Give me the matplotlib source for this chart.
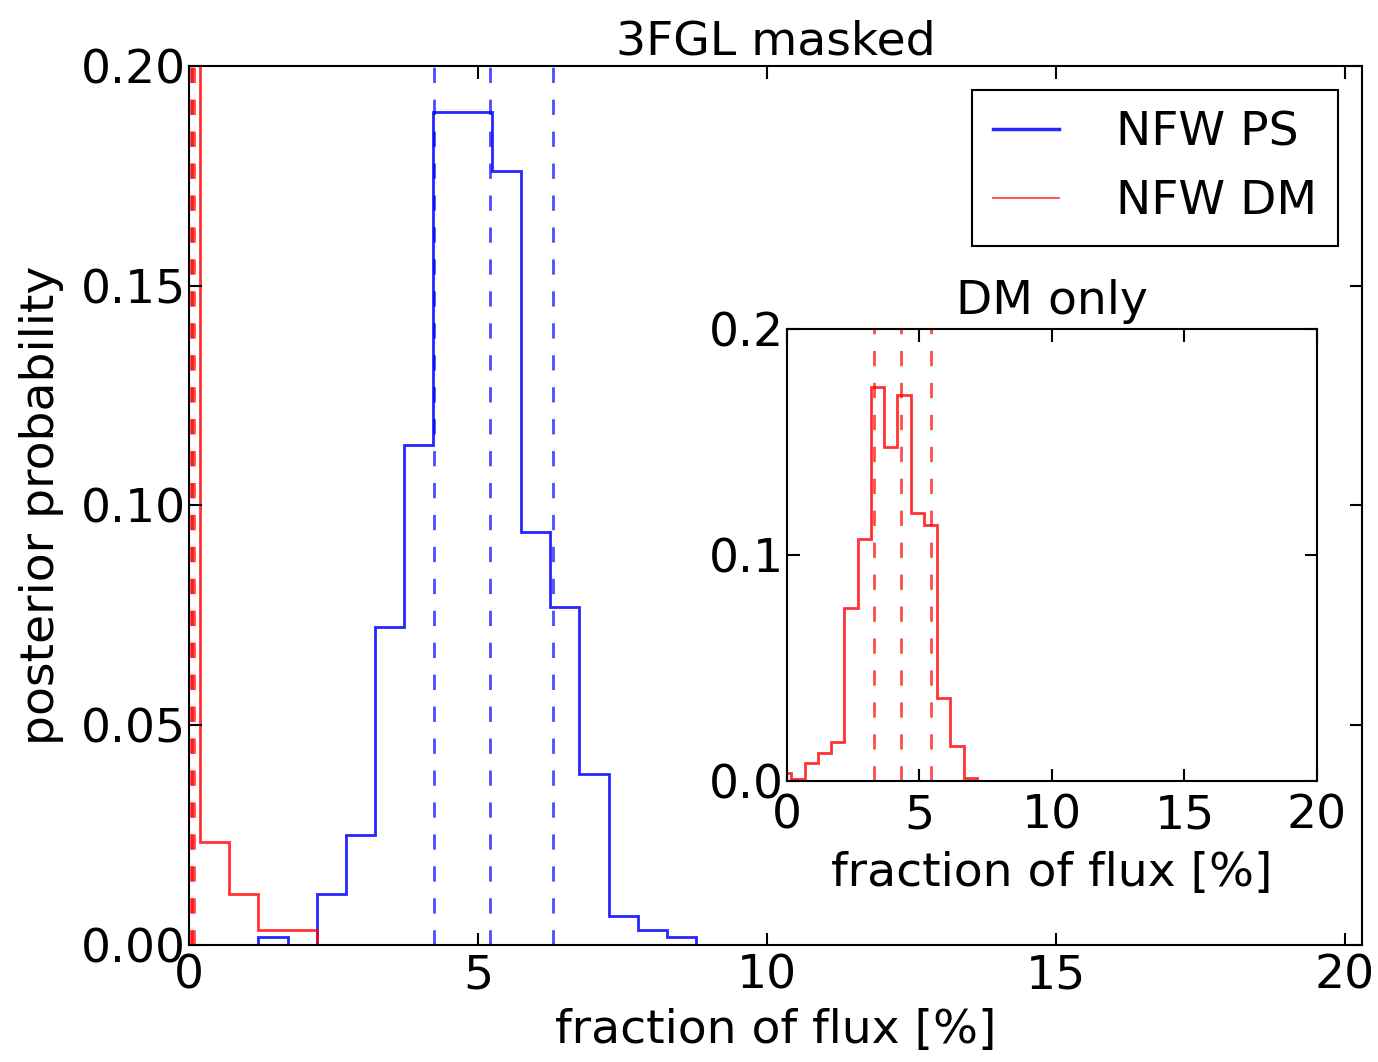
import matplotlib
matplotlib.use("Agg")
import matplotlib.pyplot as plt
from matplotlib.lines import Line2D

# main panel: posterior of the flux fraction, shared bin edges [%]
ps_edges = [0.19, 0.695, 1.2, 1.705, 2.21, 2.715, 3.22, 3.725, 4.23, 4.735,
            5.24, 5.745, 6.25, 6.755, 7.26, 7.765, 8.27, 8.775, 20.3]
ps_prob = [0.0, 0.0, 0.0018, 0.0, 0.0115, 0.025, 0.0724, 0.1137, 0.1895,
           0.1895, 0.1762, 0.094, 0.077, 0.039, 0.0066, 0.0035, 0.0018, 0.0]

dm_edges = [-0.3, 0.19, 0.695, 1.2, 1.705, 2.21, 20.3]
dm_prob = [0.9, 0.0234, 0.0115, 0.0035, 0.0035, 0.0]

ps_quantiles = [4.24, 5.21, 6.30]
dm_quantiles = [0.03, 0.05, 0.08]

# inset: DM only fit
dmonly_edges = [-0.33, 0.17, 0.67, 1.17, 1.67, 2.17, 2.67, 3.17, 3.67, 4.17,
                4.67, 5.17, 5.67, 6.17, 6.67, 7.17, 20.0]
dmonly_prob = [0.0034, 0.001, 0.0078, 0.0123, 0.0174, 0.0764, 0.107, 0.1745,
               0.1477, 0.1708, 0.1187, 0.1133, 0.0366, 0.0156, 0.0012, 0.0]
dmonly_quantiles = [3.28, 4.31, 5.44]

fs = 34
plt.rcParams['font.family'] = ['DejaVu Sans']
plt.rcParams['lines.scale_dashes'] = False
dash = (0, (11, 12))


def style_axes(ax, xpad=6):
    for s in ax.spines.values():
        s.set_linewidth(1.5)
    ax.tick_params(direction='in', top=True, right=True, length=9, width=1.5,
                   labelsize=fs)
    ax.tick_params(axis='x', pad=xpad)
    ax.tick_params(axis='y', pad=2)


fig = plt.figure(figsize=(13.78, 10.62), dpi=100)

ax = fig.add_axes([0.1372, 0.1102, 0.8512, 0.8277])
ax.stairs(ps_prob, ps_edges, color='blue', lw=2, alpha=0.85)
ax.stairs(dm_prob, dm_edges, color='red', lw=2, alpha=0.8)
for q in ps_quantiles:
    ax.axvline(q, color='blue', lw=2, ls=dash, alpha=0.7)
for q in dm_quantiles:
    ax.axvline(q, color='red', lw=2, ls=dash, alpha=0.7)
ax.set_xlim(0, 20.3)
ax.set_ylim(0, 0.2)
ax.set_xticks([0, 5, 10, 15, 20])
ax.set_yticks([0, 0.05, 0.1, 0.15, 0.2])
ax.set_yticklabels(['%.2f' % v for v in [0, 0.05, 0.1, 0.15, 0.2]])
style_axes(ax)
ax.set_title('3FGL masked', fontsize=fs, pad=8)
ax.set_xlabel('fraction of flux [%]', fontsize=fs, labelpad=7)
ax.set_ylabel('posterior probability', fontsize=fs, labelpad=12)

handles = [Line2D([], [], color='blue', lw=2.5, alpha=0.85),
           Line2D([], [], color='red', lw=1.2, alpha=0.8)]
leg = ax.legend(handles, ['NFW PS', 'NFW DM'], loc='upper right', fontsize=fs,
                fancybox=False, framealpha=1, edgecolor='black',
                borderaxespad=0.5, handlelength=1.4, handletextpad=1.2,
                borderpad=0.45, labelspacing=0.5)
leg.get_frame().set_linewidth(1.5)

ins = fig.add_axes([0.5711, 0.2646, 0.3846, 0.4256])
ins.stairs(dmonly_prob, dmonly_edges, color='red', lw=2, alpha=0.8)
for q in dmonly_quantiles:
    ins.axvline(q, color='red', lw=2, ls=dash, alpha=0.7)
ins.set_xlim(0, 20)
ins.set_ylim(0, 0.2)
ins.set_xticks([0, 5, 10, 15, 20])
ins.set_yticks([0, 0.1, 0.2])
ins.set_yticklabels(['%.1f' % v for v in [0, 0.1, 0.2]])
style_axes(ins, xpad=9)
ins.set_title('DM only', fontsize=fs, pad=11)
ins.set_xlabel('fraction of flux [%]', fontsize=fs, labelpad=9)

fig.savefig('out.png', dpi=100)
